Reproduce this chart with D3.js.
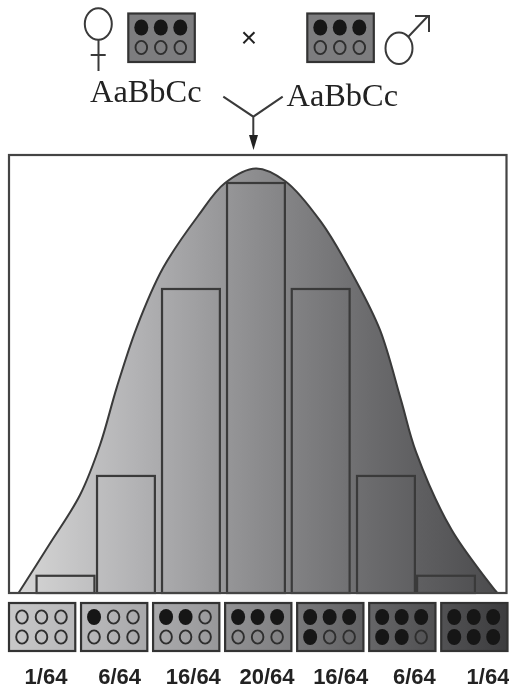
<!DOCTYPE html>
<html>
<head>
<meta charset="utf-8">
<script src="https://d3js.org/d3.v7.min.js"></script>
<style>
  html, body { margin: 0; padding: 0; background: #fff; }
  /* the reference is a soft scan */
  svg { display: block; filter: blur(0.4px); }
</style>
</head>
<body>
<svg id="chart" width="509" height="688"></svg>
<script>
// offspring classes
var labels = ["1/64", "6/64", "16/64", "20/64", "16/64", "6/64", "1/64"];
var darkAlleles = [0, 1, 2, 3, 4, 5, 6];
// bar height in 64ths and bar centre in class units, as drawn (not quite regular)
var barHeights = [0.84, 5.71, 14.83, 20, 14.83, 5.71, 0.84];
var barCentres = [0, 0.93, 1.93, 2.93, 3.926, 4.93, 5.854];
// the bell curve outline, same units as the bars
var curveX = [-0.723, -0.254, 0.223, 0.531, 0.788, 1.095, 1.5, 2.038, 2.454, 2.931,
  3.377, 3.931, 4.454, 4.838, 5.162, 5.392, 5.942, 6.643];
var curveY = [0, 2.34, 4.78, 7.22, 10.02, 12.95, 15.85, 18.39, 20, 20.71,
  20.1, 18.1, 15.32, 12.83, 9.41, 6.88, 3.07, 0];
var boxLight = ["#c8c8c8", "#bababc", "#aaaaac", "#929294", "#78787a", "#666668", "#525254"];
var boxDark = ["#b8b8ba", "#a8a8aa", "#98989a", "#7e7e80", "#626264", "#505052", "#3c3c3e"];

var INK = "#3a3a3a";
var svg = d3.select("#chart");
var defs = svg.append("defs");

var x = d3.scaleLinear().domain([0, 6]).range([65.5, 455.5]);
var y = d3.scaleLinear().domain([0, 20]).range([593, 183]);
var barWidth = x(0.89) - x(0);

// gradient under the curve
var bellGradient = defs.append("linearGradient")
  .attr("id", "bellGradient")
  .attr("gradientUnits", "userSpaceOnUse")
  .attr("x1", x(-0.73)).attr("x2", x(6.64)).attr("y1", 0).attr("y2", 0);
bellGradient.append("stop").attr("offset", "0").attr("stop-color", "#d6d6d6");
bellGradient.append("stop").attr("offset", "0.25").attr("stop-color", "#b2b2b4");
bellGradient.append("stop").attr("offset", "0.5").attr("stop-color", "#8c8c8e");
bellGradient.append("stop").attr("offset", "0.75").attr("stop-color", "#69696b");
bellGradient.append("stop").attr("offset", "1").attr("stop-color", "#4c4c4e");

// frame
svg.append("rect")
  .attr("x", 9).attr("y", 155)
  .attr("width", 497.5).attr("height", y(0) - 155)
  .attr("fill", "#fff")
  .attr("stroke", "#444")
  .attr("stroke-width", 2.2);

// bell curve
var bell = d3.area()
  .x(function(d) { return x(d); })
  .y0(y(0))
  .y1(function(d, i) { return y(curveY[i]); })
  .curve(d3.curveCatmullRom.alpha(0.5));

svg.append("path")
  .attr("d", bell(curveX))
  .attr("fill", "url(#bellGradient)");

var bellLine = d3.line()
  .x(function(d) { return x(d); })
  .y(function(d, i) { return y(curveY[i]); })
  .curve(d3.curveCatmullRom.alpha(0.5));

svg.append("path")
  .attr("d", bellLine(curveX))
  .attr("fill", "none")
  .attr("stroke", INK)
  .attr("stroke-width", 2);

// bars
svg.selectAll(".bar")
  .data(barHeights)
  .enter().append("rect")
  .attr("class", "bar")
  .attr("x", function(d, i) { return x(barCentres[i]) - barWidth / 2; })
  .attr("y", function(d) { return y(d); })
  .attr("width", barWidth)
  .attr("height", function(d) { return y(0) - y(d); })
  .attr("fill", "none")
  .attr("stroke", INK)
  .attr("stroke-width", 2.2);

// baseline goes over the foot of the curve and bars
svg.append("line")
  .attr("x1", 9).attr("x2", 506.5)
  .attr("y1", y(0)).attr("y2", y(0))
  .attr("stroke", "#444")
  .attr("stroke-width", 2.2);

// little genotype box with six alleles, the first n of them filled
var colX = d3.scalePoint().domain([0, 1, 2]).range([13, 52]);
var rowY = d3.scalePoint().domain([0, 1]).range([14, 34]);

function drawGenotype(g, n) {
  for (var j = 0; j < 6; j++) {
    g.append("ellipse")
      .attr("cx", colX(j % 3))
      .attr("cy", rowY(Math.floor(j / 3)))
      .attr("rx", j < n ? 7 : 5.8)
      .attr("ry", j < n ? 8 : 6.6)
      .attr("fill", j < n ? "#161616" : "none")
      .attr("stroke", j < n ? "none" : "#2e2e2e")
      .attr("stroke-width", 1.9);
  }
}

// offspring row
var boxX = d3.scaleBand().domain(d3.range(labels.length)).range([9, 507.5]).paddingInner(0.08);

labels.forEach(function(d, i) {
  var grad = defs.append("linearGradient").attr("id", "box" + i);
  grad.append("stop").attr("offset", "0").attr("stop-color", boxLight[i]);
  grad.append("stop").attr("offset", "1").attr("stop-color", boxDark[i]);

  var g = svg.append("g")
    .attr("transform", "translate(" + boxX(i) + ",603)");
  g.append("rect")
    .attr("width", boxX.bandwidth())
    .attr("height", 48)
    .attr("fill", "url(#box" + i + ")")
    .attr("stroke", "#333")
    .attr("stroke-width", 2.2);
  drawGenotype(g, darkAlleles[i]);
});

var labelX = d3.scalePoint().domain(d3.range(labels.length)).range([46, 488]);

svg.selectAll(".ratio")
  .data(labels)
  .enter().append("text")
  .attr("class", "ratio")
  .attr("x", function(d, i) { return labelX(i); })
  .attr("y", 684)
  .attr("text-anchor", "middle")
  .attr("font-family", "'Liberation Sans', sans-serif")
  .attr("font-weight", "bold")
  .attr("font-size", 22)
  .attr("fill", "#222")
  .text(function(d) { return d; });

// parents
[128.3, 307.3].forEach(function(px) {
  var g = svg.append("g").attr("transform", "translate(" + px + ",13.5)");
  g.append("rect")
    .attr("width", 66.5)
    .attr("height", 48.5)
    .attr("fill", "#7d7d7f")
    .attr("stroke", "#333")
    .attr("stroke-width", 2.2);
  drawGenotype(g, 3);
});

var symbols = svg.append("g")
  .attr("fill", "none")
  .attr("stroke", INK)
  .attr("stroke-width", 2);

// female
symbols.append("ellipse").attr("cx", 98.3).attr("cy", 24).attr("rx", 13.5).attr("ry", 15.7);
symbols.append("path").attr("d", "M98.5,40V71M90.7,55H105.7");

// male
symbols.append("ellipse").attr("cx", 399).attr("cy", 48.3).attr("rx", 13.5).attr("ry", 15.7);
symbols.append("path").attr("d", "M408.3,36.7L428,16M415,16H429V32");

// cross connector
symbols.append("path")
  .attr("d", "M223.3,96.7L253.3,116.7L282.7,96.7M253.3,116.7V137");
svg.append("path")
  .attr("d", "M249,135H258L253.5,150Z")
  .attr("fill", "#222");

svg.append("text")
  .attr("x", 249).attr("y", 47)
  .attr("text-anchor", "middle")
  .attr("font-family", "'Liberation Sans', sans-serif")
  .attr("font-size", 28)
  .attr("fill", "#222")
  .text("\u00D7");

[[90, 101.5], [286.5, 106]].forEach(function(p) {
  svg.append("text")
    .attr("x", p[0]).attr("y", p[1])
    .attr("font-family", "'Liberation Serif', serif")
    .attr("font-size", 32.4)
    .attr("fill", "#222")
    .text("AaBbCc");
});
</script>
</body>
</html>
